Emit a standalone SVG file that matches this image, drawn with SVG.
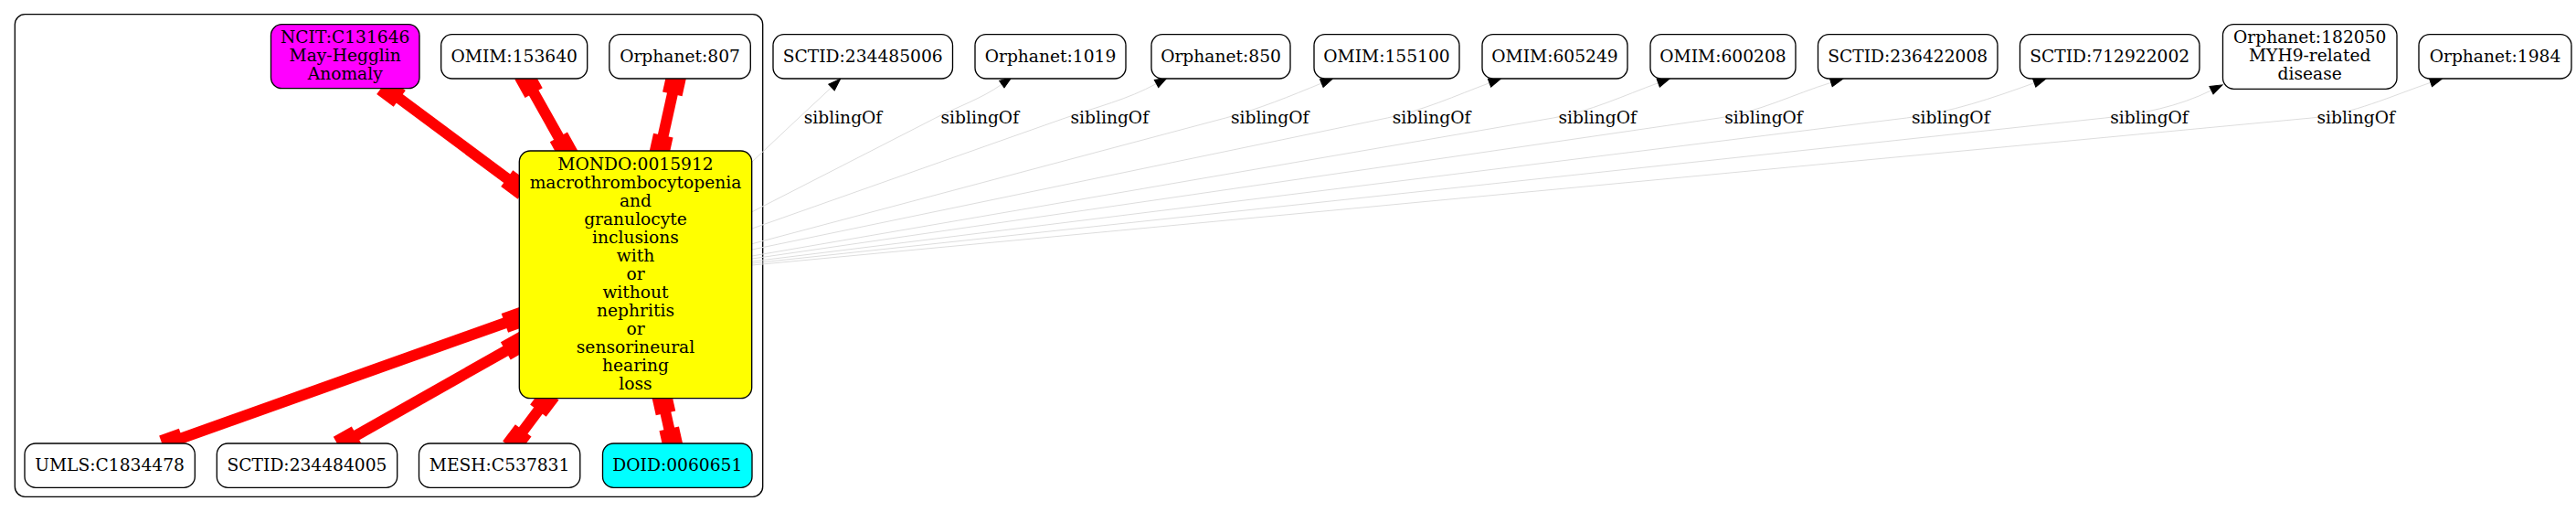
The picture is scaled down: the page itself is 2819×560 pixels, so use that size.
<svg xmlns="http://www.w3.org/2000/svg" xmlns:xlink="http://www.w3.org/1999/xlink" width="2819" height="560" viewBox="0 0 2819 560">
<style>
text{font-family:"DejaVu Serif","Liberation Serif",serif;font-size:18.67px;text-anchor:middle;fill:#000}
.n{stroke:#000;stroke-width:1.33;fill:#fff}
.cl{stroke:#000;stroke-width:1.33;fill:none}
.re{stroke:#f00;stroke-width:12;fill:none}
.sib{stroke:#dddddd;stroke-width:1;fill:none;marker-end:url(#arr)}
</style>
<defs>
<marker id="arr" markerUnits="userSpaceOnUse" viewBox="-2 -6 17 12" markerWidth="17" markerHeight="12" refX="0" refY="0" orient="auto">
<path d="M0,-4.67 L13.33,0 L0,4.67 Z" fill="#000" stroke="#000" stroke-width="1"/>
</marker>
<rect id="bx" x="-11.5" y="-11" width="23" height="22" fill="#f00"/>
</defs>
<rect width="2819" height="560" fill="#fff"/>
<g id="cluster"><rect class="cl" x="16.3" y="15.7" width="818.4" height="527.6" rx="11"/></g>

<g id="connectors">
<g id="red-edges">
<line class="re" x1="428" y1="101" x2="564" y2="202"/>
<use xlink:href="#bx" transform="translate(428,101) rotate(36.6)"/>
<use xlink:href="#bx" transform="translate(564,202) rotate(36.6)"/>
<line class="re" x1="578.5" y1="91.5" x2="617" y2="160"/>
<use xlink:href="#bx" transform="translate(578.5,91.5) rotate(60.7)"/>
<use xlink:href="#bx" transform="translate(617,160) rotate(60.7)"/>
<line class="re" x1="738.3" y1="91.7" x2="723.3" y2="159.3"/>
<use xlink:href="#bx" transform="translate(738.3,91.7) rotate(102.5)"/>
<use xlink:href="#bx" transform="translate(723.3,159.3) rotate(102.5)"/>
<line class="re" x1="563.2" y1="349.5" x2="188.7" y2="482.9"/>
<use xlink:href="#bx" transform="translate(563.2,349.5) rotate(160.4)"/>
<use xlink:href="#bx" transform="translate(188.7,482.9) rotate(160.4)"/>
<line class="re" x1="563.3" y1="378.2" x2="380.2" y2="481.7"/>
<use xlink:href="#bx" transform="translate(563.3,378.2) rotate(150.5)"/>
<use xlink:href="#bx" transform="translate(380.2,481.7) rotate(150.5)"/>
<line class="re" x1="595.8" y1="440" x2="565.8" y2="480"/>
<use xlink:href="#bx" transform="translate(595.8,440) rotate(126.9)"/>
<use xlink:href="#bx" transform="translate(565.8,480) rotate(126.9)"/>
<line class="re" x1="726" y1="440.7" x2="734.7" y2="480"/>
<use xlink:href="#bx" transform="translate(726,440.7) rotate(77.5)"/>
<use xlink:href="#bx" transform="translate(734.7,480) rotate(77.5)"/>
</g>
<g id="sibling-edges">
<path class="sib" d="M823,177 L874,129 C885.9,117.8 898.1,106.8 910,95.5"/>
<path class="sib" d="M823,231.7 L1023.8,129 C1047.9,116.7 1074.2,107.9 1096.3,92.2"/>
<path class="sib" d="M823,250 L1165.8,129 C1199.3,117.2 1234.4,108.7 1265.5,91.5"/>
<path class="sib" d="M823,266.7 L1341.2,129 C1377.2,119.4 1411.8,105.2 1446.3,91"/>
<path class="sib" d="M823,273 L1518.1,129 C1556.7,121 1593.1,104.6 1630,90.7"/>
<path class="sib" d="M823,280 L1699.7,129 C1739.5,122.1 1776.8,104.6 1814.7,90.7"/>
<path class="sib" d="M823,283 L1881.5,129 C1923.9,122.8 1962.9,103 2003.8,90.3"/>
<path class="sib" d="M823,286 L2086.3,129 C2134.2,123.1 2180.8,107.2 2226.2,90.7"/>
<path class="sib" d="M823,288 L2303.5,129 C2343.4,124.7 2384.1,116.6 2420,98.8"/>
<path class="sib" d="M823,290 L2529.7,129 C2574.8,124.7 2617.1,104.9 2660,90.3"/>
<text x="922.5" y="135">siblingOf</text>
<text x="1072.3" y="135">siblingOf</text>
<text x="1214.3" y="135">siblingOf</text>
<text x="1389.7" y="135">siblingOf</text>
<text x="1566.6" y="135">siblingOf</text>
<text x="1748.2" y="135">siblingOf</text>
<text x="1930" y="135">siblingOf</text>
<text x="2134.8" y="135">siblingOf</text>
<text x="2352" y="135">siblingOf</text>
<text x="2578.2" y="135">siblingOf</text>
</g>
</g>

<g id="NCIT_C131646"><rect class="n" x="296.5" y="26.7" width="162.5" height="70" rx="12" style="fill:#ff00ff"/>
<text x="377.7" y="46.5">NCIT:C131646</text><text x="377.7" y="66.5">May-Hegglin</text><text x="377.7" y="86.5">Anomaly</text></g>
<g id="OMIM_153640"><rect class="n" x="482.7" y="37.7" width="160" height="48.3" rx="12"/><text x="562.7" y="67.5">OMIM:153640</text></g>
<g id="Orphanet_807"><rect class="n" x="666.8" y="37.7" width="154.5" height="48.3" rx="12"/><text x="744" y="67.5">Orphanet:807</text></g>
<g id="MONDO_0015912"><rect class="n" x="568.3" y="165" width="254.4" height="270.7" rx="12" style="fill:#ffff00"/>
<text x="695.5" y="185.5">MONDO:0015912</text>
<text x="695.5" y="205.5">macrothrombocytopenia</text>
<text x="695.5" y="225.5">and</text>
<text x="695.5" y="245.5">granulocyte</text>
<text x="695.5" y="265.5">inclusions</text>
<text x="695.5" y="285.5">with</text>
<text x="695.5" y="305.5">or</text>
<text x="695.5" y="325.5">without</text>
<text x="695.5" y="345.5">nephritis</text>
<text x="695.5" y="365.5">or</text>
<text x="695.5" y="385.5">sensorineural</text>
<text x="695.5" y="405.5">hearing</text>
<text x="695.5" y="425.5">loss</text></g>
<g id="UMLS_C1834478"><rect class="n" x="27" y="485" width="186.3" height="48.3" rx="12"/><text x="120.1" y="515">UMLS:C1834478</text></g>
<g id="SCTID_234484005"><rect class="n" x="237.3" y="485" width="197.4" height="48.3" rx="12"/><text x="336" y="515">SCTID:234484005</text></g>
<g id="MESH_C537831"><rect class="n" x="458.5" y="485" width="176.3" height="48.3" rx="12"/><text x="546.6" y="515">MESH:C537831</text></g>
<g id="DOID_0060651"><rect class="n" x="659.5" y="485" width="163.5" height="48.3" rx="12" style="fill:#00ffff"/><text x="741.3" y="515">DOID:0060651</text></g>

<g id="SCTID_234485006"><rect class="n" x="846" y="37.7" width="196.5" height="48.3" rx="12"/><text x="944.2" y="67.5">SCTID:234485006</text></g>
<g id="Orphanet_1019"><rect class="n" x="1067" y="37.7" width="165" height="48.3" rx="12"/><text x="1149.5" y="67.5">Orphanet:1019</text></g>
<g id="Orphanet_850"><rect class="n" x="1260" y="37.7" width="152" height="48.3" rx="12"/><text x="1336" y="67.5">Orphanet:850</text></g>
<g id="OMIM_155100"><rect class="n" x="1438" y="37.7" width="159" height="48.3" rx="12"/><text x="1517.5" y="67.5">OMIM:155100</text></g>
<g id="OMIM_605249"><rect class="n" x="1622" y="37.7" width="159" height="48.3" rx="12"/><text x="1701.5" y="67.5">OMIM:605249</text></g>
<g id="OMIM_600208"><rect class="n" x="1806" y="37.7" width="159" height="48.3" rx="12"/><text x="1885.5" y="67.5">OMIM:600208</text></g>
<g id="SCTID_236422008"><rect class="n" x="1989.5" y="37.7" width="196.5" height="48.3" rx="12"/><text x="2087.7" y="67.5">SCTID:236422008</text></g>
<g id="SCTID_712922002"><rect class="n" x="2210.5" y="37.7" width="196.5" height="48.3" rx="12"/><text x="2308.7" y="67.5">SCTID:712922002</text></g>
<g id="Orphanet_182050"><rect class="n" x="2432.5" y="26.7" width="190.5" height="70.6" rx="12"/>
<text x="2527.7" y="46.5">Orphanet:182050</text><text x="2527.7" y="66.5">MYH9-related</text><text x="2527.7" y="86.5">disease</text></g>
<g id="Orphanet_1984"><rect class="n" x="2647" y="37.7" width="167" height="48.3" rx="12"/><text x="2730.5" y="67.5">Orphanet:1984</text></g>
</svg>
